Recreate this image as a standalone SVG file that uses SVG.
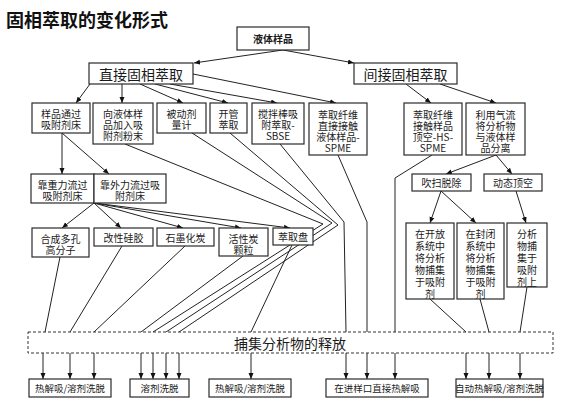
<svg xmlns="http://www.w3.org/2000/svg" width="566" height="411" viewBox="0 0 566 411">
<style>
.b{fill:#fff;stroke:#2a2a2a;stroke-width:1.2}
.d{fill:#fff;stroke:#333;stroke-width:1;stroke-dasharray:3,2}
.t{font-family:"Noto Sans CJK SC","Liberation Sans",sans-serif;font-size:10px;text-anchor:middle;dominant-baseline:central;fill:#1a1a1a}
.s{font-size:9.5px}
.m{font-size:14px}
#conn line,#conn polyline{stroke:#222;stroke-width:1;fill:none}
.a{marker-end:url(#ah)}
</style>
<defs>
<marker id="ah" markerWidth="6" markerHeight="6" refX="6" refY="3" orient="auto" markerUnits="userSpaceOnUse">
<path d="M0,0.5 L6,3 L0,5.5 z" fill="#111"/>
</marker>
</defs>
<rect width="566" height="411" fill="#fff"/>
<text x="6" y="19" font-family="'Noto Sans CJK SC',sans-serif" font-size="18" font-weight="bold" dominant-baseline="central" fill="#111">固相萃取的变化形式</text>

<g id="conn">
<line class="a" x1="283" y1="50" x2="194" y2="63"/>
<line class="a" x1="283" y1="50" x2="354" y2="63"/>
<line class="a" x1="90" y1="84" x2="76" y2="103"/>
<line class="a" x1="122" y1="84" x2="122" y2="103"/>
<line class="a" x1="140" y1="84" x2="183" y2="103"/>
<line class="a" x1="155" y1="84" x2="228" y2="103"/>
<line class="a" x1="170" y1="84" x2="277" y2="103"/>
<line class="a" x1="193" y1="74" x2="336" y2="103"/>
<line class="a" x1="406" y1="84" x2="431" y2="103"/>
<line class="a" x1="440" y1="84" x2="496" y2="103"/>
<line class="a" x1="62" y1="133" x2="62" y2="174"/>
<line class="a" x1="62" y1="133" x2="109" y2="174"/>
<line class="a" x1="496" y1="155" x2="446" y2="174"/>
<line class="a" x1="496" y1="155" x2="512" y2="174"/>
<line class="a" x1="94" y1="203" x2="62" y2="228"/>
<line class="a" x1="94" y1="203" x2="121" y2="228"/>
<line class="a" x1="94" y1="203" x2="183" y2="228"/>
<line class="a" x1="94" y1="203" x2="241" y2="228"/>
<line class="a" x1="94" y1="203" x2="290" y2="228"/>
<line class="a" x1="441" y1="191" x2="430" y2="223"/>
<line class="a" x1="441" y1="191" x2="476" y2="223"/>
<line class="a" x1="516" y1="191" x2="526" y2="223"/>
<line x1="60" y1="257" x2="45" y2="332"/>
<line x1="122" y1="246" x2="70" y2="332"/>
<line x1="185" y1="246" x2="94" y2="332"/>
<line x1="243" y1="256" x2="141" y2="332"/>
<polyline points="125,144 323,224 153,332"/>
<polyline points="192,133 332,223 166,332"/>
<polyline points="230,133 338,225 179,332"/>
<line x1="292" y1="245" x2="251" y2="332"/>
<polyline points="280,144 344,222 346,332"/>
<polyline points="338,155 367,222 367,332"/>
<polyline points="432,155 395,178 395,332"/>
<line x1="430" y1="299" x2="466" y2="332"/>
<line x1="480" y1="299" x2="489" y2="332"/>
<line x1="527" y1="287" x2="520" y2="332"/>
<line class="a" x1="43" y1="353" x2="43" y2="379"/>
<line class="a" x1="70" y1="353" x2="70" y2="379"/>
<line class="a" x1="94" y1="353" x2="94" y2="379"/>
<line class="a" x1="141" y1="353" x2="141" y2="379"/>
<line class="a" x1="153" y1="353" x2="153" y2="379"/>
<line class="a" x1="166" y1="353" x2="166" y2="379"/>
<line class="a" x1="179" y1="353" x2="179" y2="379"/>
<line class="a" x1="251" y1="353" x2="251" y2="379"/>
<line class="a" x1="346" y1="353" x2="346" y2="379"/>
<line class="a" x1="367" y1="353" x2="367" y2="379"/>
<line class="a" x1="395" y1="353" x2="395" y2="379"/>
<line class="a" x1="466" y1="353" x2="466" y2="379"/>
<line class="a" x1="489" y1="353" x2="489" y2="379"/>
<line class="a" x1="520" y1="353" x2="520" y2="379"/>
</g>

<g id="n-sample"><rect class="b" x="237" y="27" width="72" height="23"/><text class="t" x="273" y="38.5" font-size="14" font-weight="bold">液体样品</text></g>
<g id="n-direct"><rect class="b" x="89" y="63" width="104" height="21"/><text class="t m" x="141" y="73.5">直接固相萃取</text></g>
<g id="n-indirect"><rect class="b" x="354" y="63" width="103" height="21"/><text class="t m" x="405.5" y="73.5">间接固相萃取</text></g>

<g id="n-bed"><rect class="b" x="32" y="103" width="58" height="30"/><text class="t" y="113"><tspan x="61">样品通过</tspan><tspan x="61" dy="11">吸附剂床</tspan></text></g>
<g id="n-powder"><rect class="b" x="93" y="103" width="60" height="41"/><text class="t" y="113"><tspan x="123">向液体样</tspan><tspan x="123" dy="11">品加入吸</tspan><tspan x="123" dy="11">附剂粉末</tspan></text></g>
<g id="n-passive"><rect class="b" x="157" y="103" width="49" height="30"/><text class="t" y="113"><tspan x="181.5">被动剂</tspan><tspan x="181.5" dy="11">量计</tspan></text></g>
<g id="n-opentube"><rect class="b" x="210" y="103" width="37" height="30"/><text class="t" y="113"><tspan x="228.5">开管</tspan><tspan x="228.5" dy="11">萃取</tspan></text></g>
<g id="n-sbse"><rect class="b" x="252" y="103" width="52" height="41"/><text class="t" y="113"><tspan x="278">搅拌棒吸</tspan><tspan x="278" dy="11">附萃取-</tspan><tspan x="278" dy="11">SBSE</tspan></text></g>
<g id="n-spme"><rect class="b" x="309" y="103" width="58" height="52"/><text class="t" y="113.5"><tspan x="338">萃取纤维</tspan><tspan x="338" dy="11">直接接触</tspan><tspan x="338" dy="11">液体样品-</tspan><tspan x="338" dy="11">SPME</tspan></text></g>
<g id="n-hsspme"><rect class="b" x="404" y="103" width="58" height="52"/><text class="t" y="113.5"><tspan x="433">萃取纤维</tspan><tspan x="433" dy="11">接触样品</tspan><tspan x="433" dy="11">顶空-HS-</tspan><tspan x="433" dy="11">SPME</tspan></text></g>
<g id="n-gas"><rect class="b" x="466" y="103" width="59" height="52"/><text class="t" y="113.5"><tspan x="495.5">利用气流</tspan><tspan x="495.5" dy="11">将分析物</tspan><tspan x="495.5" dy="11">与液体样</tspan><tspan x="495.5" dy="11">品分离</tspan></text></g>

<g id="n-gravity"><rect class="b" x="31" y="174" width="63" height="29"/><text class="t" y="184"><tspan x="62.5">靠重力流过</tspan><tspan x="62.5" dy="11">吸附剂床</tspan></text></g>
<g id="n-force"><rect class="b" x="94" y="174" width="72" height="29"/><text class="t" y="184"><tspan x="130">靠外力流过吸</tspan><tspan x="130" dy="11">附剂床</tspan></text></g>
<g id="n-purge"><rect class="b" x="412" y="174" width="59" height="17"/><text class="t" x="441.5" y="182.5">吹扫脱除</text></g>
<g id="n-dynhs"><rect class="b" x="484" y="174" width="58" height="17"/><text class="t" x="513" y="182.5">动态顶空</text></g>

<g id="n-polymer"><rect class="b" x="32" y="228" width="57" height="29"/><text class="t" y="238"><tspan x="60.5">合成多孔</tspan><tspan x="60.5" dy="11">高分子</tspan></text></g>
<g id="n-silica"><rect class="b" x="94" y="228" width="59" height="18"/><text class="t" x="123.5" y="237">改性硅胶</text></g>
<g id="n-graphite"><rect class="b" x="157" y="228" width="57" height="18"/><text class="t" x="185.5" y="237">石墨化炭</text></g>
<g id="n-carbon"><rect class="b" x="219" y="228" width="49" height="28"/><text class="t" y="238"><tspan x="243.5">活性炭</tspan><tspan x="243.5" dy="11">颗粒</tspan></text></g>
<g id="n-disk"><rect class="b" x="273" y="228" width="40" height="17"/><text class="t" x="293" y="236.5">萃取盘</text></g>

<g id="n-open"><rect class="b" x="406" y="223" width="48" height="76"/><text class="t" y="233"><tspan x="430">在开放</tspan><tspan x="430" dy="12">系统中</tspan><tspan x="430" dy="12">将分析</tspan><tspan x="430" dy="12">物捕集</tspan><tspan x="430" dy="12">于吸附</tspan><tspan x="430" dy="11.5">剂</tspan></text></g>
<g id="n-closed"><rect class="b" x="457" y="223" width="47" height="76"/><text class="t" y="233"><tspan x="480.5">在封闭</tspan><tspan x="480.5" dy="12">系统中</tspan><tspan x="480.5" dy="12">将分析</tspan><tspan x="480.5" dy="12">物捕集</tspan><tspan x="480.5" dy="12">于吸附</tspan><tspan x="480.5" dy="11.5">剂</tspan></text></g>
<g id="n-trap"><rect class="b" x="507" y="223" width="40" height="64"/><text class="t" y="233"><tspan x="527">分析</tspan><tspan x="527" dy="12">物捕</tspan><tspan x="527" dy="12">集于</tspan><tspan x="527" dy="12">吸附</tspan><tspan x="527" dy="11.5">剂上</tspan></text></g>

<g id="n-release"><rect class="d" x="28" y="332" width="525" height="21"/><text class="t m" x="290" y="342.5">捕集分析物的释放</text></g>

<g id="n-out1"><rect class="b" x="29" y="379" width="82" height="18"/><text class="t s" x="70" y="388">热解吸/溶剂洗脱</text></g>
<g id="n-out2"><rect class="b" x="130" y="379" width="59" height="18"/><text class="t s" x="159.5" y="388">溶剂洗脱</text></g>
<g id="n-out3"><rect class="b" x="209" y="379" width="82" height="18"/><text class="t s" x="250" y="388">热解吸/溶剂洗脱</text></g>
<g id="n-out4"><rect class="b" x="326" y="379" width="102" height="18"/><text class="t s" x="377" y="388">在进样口直接热解吸</text></g>
<g id="n-out5"><rect class="b" x="456" y="379" width="87" height="18"/><text class="t s" x="499.5" y="388">自动热解吸/溶剂洗脱</text></g>
</svg>
